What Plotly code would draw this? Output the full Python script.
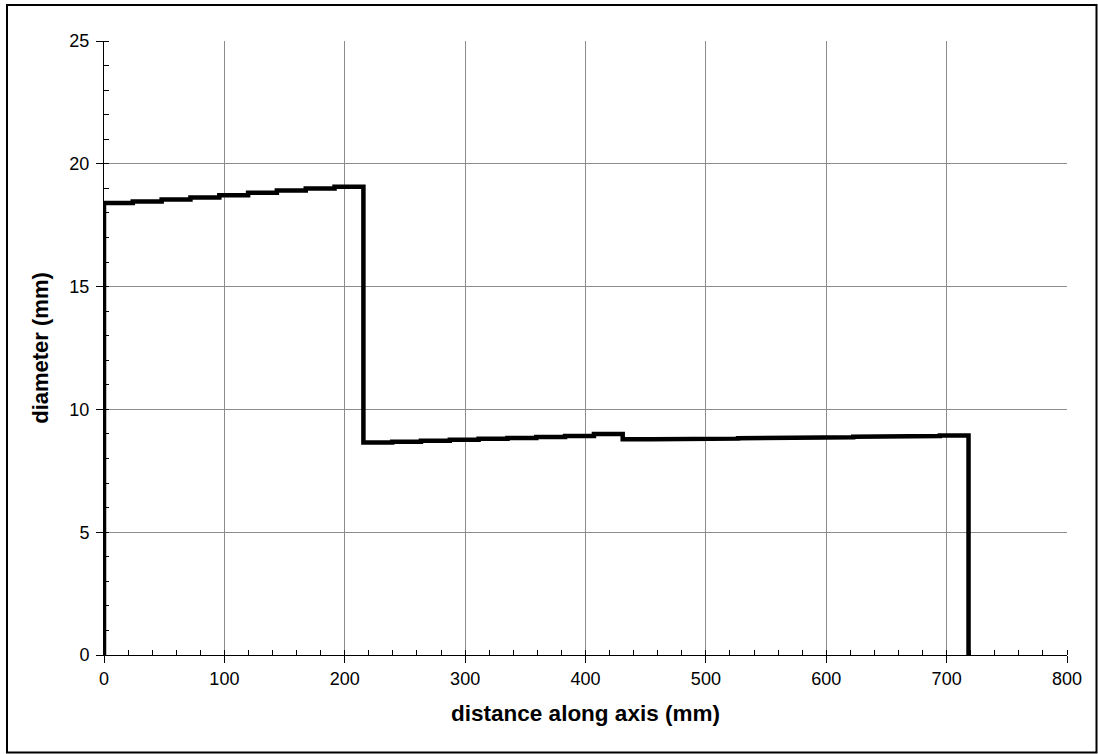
import plotly.graph_objects as go

# Segment boundaries along the axis (mm) and the diameter held over each segment (mm)
edges_mm = [0, 23.9, 47.9, 71.8, 95.8, 119.7, 143.6, 167.6, 191.5, 215.5,
            239.4, 263.3, 287.3, 311.2, 335.2, 359.1, 383.0, 407.0, 430.9,
            454.9, 478.8, 502.7, 526.7, 550.6, 574.6, 598.5, 622.4, 646.4,
            670.3, 694.3, 718.2]
diameter_mm = [18.40, 18.47, 18.55, 18.63, 18.72, 18.82, 18.91, 18.99, 19.07,
               8.65, 8.68, 8.72, 8.76, 8.80, 8.84, 8.88, 8.92, 9.00,
               8.78, 8.78, 8.80, 8.81, 8.83, 8.84, 8.86, 8.87, 8.89, 8.90,
               8.92, 8.94]

x_ticks = [0, 100, 200, 300, 400, 500, 600, 700, 800]
y_ticks = [0, 5, 10, 15, 20, 25]

# Build the stepped outline: rise from zero, flat over each segment, drop to zero at the end
xs = [edges_mm[0]]
ys = [0]
for i, d in enumerate(diameter_mm):
    xs += [edges_mm[i], edges_mm[i + 1]]
    ys += [d, d]
xs.append(edges_mm[-1])
ys.append(0)

fig = go.Figure()
fig.add_trace(go.Scatter(x=xs, y=ys, mode="lines",
                         line=dict(color="black", width=4.5),
                         hoverinfo="skip", showlegend=False))

W, H = 1098, 754
L, R, T, B = 104, 31, 41, 99
pw, ph = W - L - R, H - T - B

font_family = "Arial, Liberation Sans, sans-serif"

axis_common = dict(
    showline=True, linecolor="black", linewidth=1,
    showgrid=True, gridcolor="#8c8c8c", gridwidth=1,
    ticks="outside", ticklen=7, tickcolor="black", tickwidth=1,
    zeroline=False, mirror=False,
    tickfont=dict(family=font_family, size=18, color="black"),
)

fig.update_xaxes(
    range=[0, 800], tickvals=x_ticks, ticktext=[str(v) for v in x_ticks],
    minor=dict(ticks="inside", ticklen=5, dtick=20, tick0=0,
               tickcolor="black", showgrid=False),
    title=dict(text="<b>distance along axis (mm)</b>",
               font=dict(family=font_family, size=22.5, color="black"),
               standoff=17),
    **axis_common,
)
fig.update_yaxes(
    range=[0, 25], tickvals=y_ticks, ticktext=[str(v) for v in y_ticks],
    minor=dict(ticks="inside", ticklen=5, dtick=1, tick0=0,
               tickcolor="black", showgrid=False),
    ticklabelstandoff=3,
    title=dict(text="<b>diameter (mm)</b>",
               font=dict(family=font_family, size=22, color="black"),
               standoff=14),
    **axis_common,
)

# Black frame around the whole chart
fig.add_shape(type="rect", xref="paper", yref="paper",
              x0=(7 - L) / pw, x1=(1096.5 - L) / pw,
              y0=(H - B - 752.5) / ph, y1=(H - B - 5) / ph,
              line=dict(color="black", width=2), fillcolor="rgba(0,0,0,0)",
              layer="below")

fig.update_layout(
    width=W, height=H,
    margin=dict(l=L, r=R, t=T, b=B, autoexpand=False),
    paper_bgcolor="white", plot_bgcolor="white",
    font=dict(family=font_family, color="black"),
)

fig.write_html("out.html")
